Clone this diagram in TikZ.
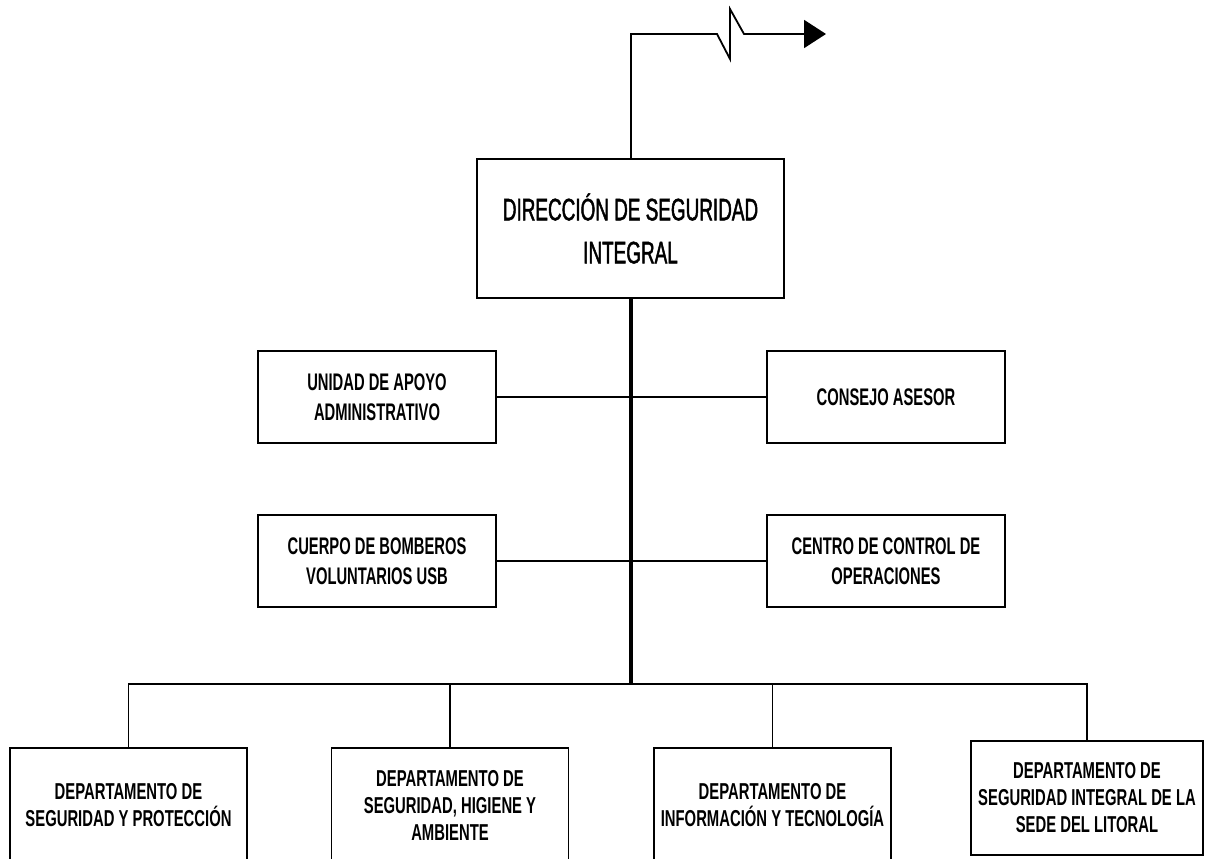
\documentclass[tikz,border=0pt]{standalone}
\usepackage{fontspec}
\setmainfont{Liberation Sans}
\newfontfamily\titlef{Liberation Sans}[FakeStretch=0.61,FakeBold=1.5]
\newfontfamily\subf{Liberation Sans}[FakeStretch=0.615]
\newfontfamily\deptf{Liberation Sans}[FakeStretch=0.645]
\usetikzlibrary{arrows.meta}
\begin{document}
\begin{tikzpicture}[x=1pt,y=-1pt,
  line join=miter,
  thinline/.style={line width=1.8pt},
  trunkline/.style={line width=3.2pt},
  mainbox/.style={draw,line width=1.8pt,rectangle,minimum width=307pt,minimum height=139pt,align=center,inner sep=0pt,
    font=\titlef\fontsize{31}{43}\selectfont},
  subbox/.style={draw,line width=1.8pt,rectangle,minimum width=238pt,minimum height=92pt,align=center,inner sep=0pt,
    font=\subf\bfseries\fontsize{24}{30}\selectfont},
  deptbox/.style={draw,line width=1.8pt,rectangle,minimum width=237pt,minimum height=114pt,align=center,inner sep=0pt,
    font=\deptf\bfseries\fontsize{23}{27}\selectfont}
]
\useasboundingbox (0,0) rectangle (1205,859);
\clip (0,0) rectangle (1205,859);

\node[mainbox] (dir) at (630.5,228.5) {DIRECCIÓN DE SEGURIDAD\\INTEGRAL};

\node[subbox] (uaa) at (377,397) {UNIDAD DE APOYO\\ADMINISTRATIVO};
\node[subbox] (ca) at (886,397) {CONSEJO ASESOR};
\node[subbox] (cbv) at (377,561) {CUERPO DE BOMBEROS\\VOLUNTARIOS USB};
\node[subbox] (cco) at (886,561) {CENTRO DE CONTROL DE\\OPERACIONES};

\node[deptbox] (d1) at (128.5,805) {DEPARTAMENTO DE\\SEGURIDAD Y PROTECCIÓN};
\node[deptbox] (d2) at (450,805) {DEPARTAMENTO DE\\SEGURIDAD, HIGIENE Y\\AMBIENTE};
\node[deptbox] (d3) at (772.5,805) {DEPARTAMENTO DE\\INFORMACIÓN Y TECNOLOGÍA};
\node[deptbox,minimum width=232pt] (d4) at (1087,798) {DEPARTAMENTO DE\\SEGURIDAD INTEGRAL DE LA\\SEDE DEL LITORAL};

% top link with break mark and arrow
\coordinate (up) at (631,34);
\coordinate (tip) at (826,34);
\draw[thinline,-{Triangle[length=22pt,width=28pt]}]
  (dir.north -| up) -- (up) -- (717,34) -- (730,59) -- (730,9) -- (744,34) -- (tip);

% trunk
\coordinate (bus) at (631,684);
\draw[trunkline] (dir.south -| bus) -- (bus);

% lateral units
\draw[thinline] (uaa.east) -- (ca.west);
\draw[thinline] (cbv.east) -- (cco.west);

% bus to departments
\draw[thinline] (d1.north) -- (d1.north |- bus) -- (d4.north |- bus) -- (d4.north);
\draw[thinline] (d2.north |- bus) -- (d2.north);
\draw[thinline] (d3.north |- bus) -- (d3.north);
\end{tikzpicture}
\end{document}
